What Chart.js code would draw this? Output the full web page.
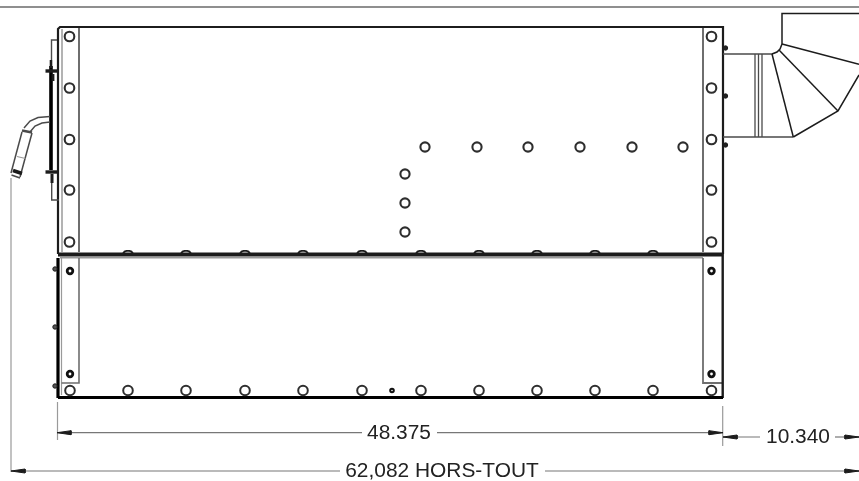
<!DOCTYPE html>
<html>
<head>
<meta charset="utf-8">
<title>Dimensions</title>
<script src="https://cdn.jsdelivr.net/npm/chart.js@4"></script>
<style>
  html, body { margin: 0; padding: 0; background: #fff; overflow: hidden; }
  canvas { display: block; filter: blur(0.35px); }
</style>
</head>
<body>
<canvas id="drawing" width="859" height="481"></canvas>
<script>
// drawing units are the pixels of the sheet
const sheetTop = [[0, 7], [859, 7]];

// main cabinet
const frameOuter = [[58, 254], [58, 29], [60, 27], [723, 27], [723, 254]];
const frameInnerLeft = [[62, 29], [62, 252]];
const frameRailLeft = [[79, 28], [79, 252]];
const frameRailRight = [[703, 28], [703, 252]];
const seamThick = [[58, 254.5], [723, 254.5]];
const seamGrey = [[60, 257.7], [703, 257.7]];

// lower panel
const panelBottom = [[58, 397.5], [723, 397.5]];
const panelLeft = [[58, 258], [58, 398]];
const panelRight = [[722.7, 254], [722.7, 398]];
const panelInnerLeft = [[61.5, 258], [61.5, 395]];
const panelRailLeft = [[61.5, 383], [79, 383], [79, 258]];
const panelRailRight = [[703, 258], [703, 383], [722, 383]];

// duct on the right
const ductTop = [[723, 54], [772, 54]];
const ductBottom = [[723, 137], [793.3, 137]];
const ductBands = [[755, 54], [755, 137]];
const ductBands2 = [[758.5, 54], [758.5, 137]];
const ductBands3 = [[762, 54], [762, 137]];
const elbowInner = [[772, 54], [777, 52], [780, 49], [782, 44]];
const elbowBox = [[782, 44], [782, 13.5], [859, 13.5]];
const elbowOuter = [[782, 44], [859, 64.3]];
const elbowRay1 = [[772, 54], [793.3, 137]];
const elbowRay2 = [[779, 50], [838, 111]];
const elbowEdge = [[793.3, 137], [838, 111], [859, 75]];

// handle and cable on the left
const handleRod = [[51, 66], [51, 170]];
const handleCone = [[51, 60], [51, 68]];
const bracketTop = [[57, 40], [51.5, 40], [51.5, 60]];
const bracketBottom = [[51.7, 182], [51.7, 200], [59, 200]];
const fittingTop = [[45.5, 71], [57, 71]];
const fittingBottom = [[45.5, 172], [57, 172]];
const fittingStemTop = [[53, 74], [53, 81]];
const fittingStemBottom = [[52, 174], [52, 183]];
const cableUpper = [[50, 116.5], [38, 117.5], [30, 121], [24, 128]];
const cableLower = [[50, 122], [42, 123], [35, 126], [30, 132]];
const plugBand = [[22, 130.5], [32, 132.5]];
const plugLeft = [[22, 132], [11, 173]];
const plugRight = [[32, 133], [20, 177]];
const plugRing = [[17, 156.5], [25.5, 158.5]];
const plugCollar = [[13, 170.5], [22, 173.5]];
const plugTip = [[11.5, 175], [20, 178]];

// holes
const railHoleRows = [36.5, 88, 139.5, 190, 242];
const railHoleCols = [69.5, 711.5];
const upperHolesX = [425, 477, 528, 580, 632, 683];
const upperHolesY = [147, 147, 147, 147, 147, 147];
const midHolesX = [405, 405, 405];
const midHolesY = [174, 203, 232];
const seamBumpsX = [128, 186, 245, 303, 362, 421, 479, 537, 595, 653];
const bottomHolesX = [70, 128, 186, 245, 303, 362, 421, 479, 537, 595, 653, 711.5];
const bottomHolesY = 390.5;
const darkHolesX = [70, 70, 711.5, 711.5, 392];
const darkHolesY = [271, 374, 271, 374, 390.5];
const knobsLeftY = [269, 327, 386];
const knobsRightY = [48, 96, 145];

// dimensions
const extFar = [[11, 178], [11, 472]];
const extLeft = [[57.5, 402], [57.5, 440]];
const extRight = [[722.7, 406], [722.7, 446]];
const dim48a = [[57, 432.7], [362, 432.7]];
const dim48b = [[437, 432.7], [723, 432.7]];
const dim10a = [[723, 437], [760, 437]];
const dim10b = [[835, 437], [859, 437]];
const dim62a = [[11, 471], [340, 471]];
const dim62b = [[545, 471], [859, 471]];
const arrowTips = [[57, 432.7, 1], [723, 432.7, -1], [723, 437, 1], [859, 437, -1], [11, 471, 1], [859, 471, -1]];

const dimLabels = ["48.375", "10.340", "62,082 HORS-TOUT"];
const dimLabelX = [399, 798, 442];
const dimLabelY = [433, 437, 471];

const dark = "#1c1c1c";
const mid = "#4a4a4a";
const rail = "#6e6e6e";
const grey = "#9a9a9a";
const holeLine = "#2e2e2e";
const datasets = [];

function line(points, width, color) {
  datasets.push({
    data: points.map((p) => ({ x: p[0], y: p[1] })),
    showLine: true,
    borderColor: color,
    borderWidth: width,
    pointRadius: 0,
    borderJoinStyle: "miter",
  });
}

function holes(xs, ys, radius, width, color, fill) {
  datasets.push({
    data: xs.map((x, i) => ({ x: x, y: ys[i] })),
    showLine: false,
    pointStyle: "circle",
    pointRadius: radius,
    pointBorderWidth: width,
    pointBorderColor: color,
    pointBackgroundColor: fill,
  });
}

function arrow(tip) {
  const [x, y, dir] = tip;
  datasets.push({
    data: [
      { x: x, y: y },
      { x: x + dir * 14, y: y - 2 },
      { x: x + dir * 14, y: y + 2 },
      { x: x, y: y },
    ],
    showLine: true,
    fill: "shape",
    backgroundColor: dark,
    borderColor: dark,
    borderWidth: 1,
    pointRadius: 0,
  });
}

// the seam covers the foot of each bump
seamBumpsX.forEach((x) => {
  line([[x - 5, 253.5], [x - 3.5, 251.6], [x - 1.5, 250.9], [x + 1.5, 250.9], [x + 3.5, 251.6], [x + 5, 253.5]], 1.8, dark);
});

line(sheetTop, 1.5, "#6a6a6a");
line(frameInnerLeft, 1.5, grey);
line(frameRailLeft, 2, rail);
line(frameRailRight, 2, rail);
line(frameOuter, 2.2, dark);
line(seamGrey, 1.6, grey);
line(seamThick, 4, dark);
line(panelInnerLeft, 1.2, grey);
line(panelRailLeft, 1.6, rail);
line(panelRailRight, 1.8, rail);
line(panelLeft, 3.2, "#000");
line(panelRight, 2.4, dark);
line(panelBottom, 3, "#000");

[ductTop, ductBottom].forEach((l) => line(l, 1.4, mid));
[ductBands, ductBands2, ductBands3].forEach((l) => line(l, 1.3, mid));
[elbowInner, elbowBox, elbowOuter, elbowRay1, elbowRay2, elbowEdge].forEach((l) => line(l, 1.5, dark));

line(handleRod, 3.6, "#000");
line(handleCone, 2.6, dark);
line(bracketTop, 1.4, mid);
line(bracketBottom, 1.4, mid);
line(fittingTop, 3.4, dark);
line(fittingBottom, 3.4, dark);
line(fittingStemTop, 2.8, dark);
line(fittingStemBottom, 3, dark);
[cableUpper, cableLower, plugLeft, plugRight].forEach((l) => line(l, 1.5, mid));
line(plugBand, 2.8, mid);
line(plugRing, 1.2, grey);
line(plugCollar, 3.6, dark);
line(plugTip, 1.6, mid);

line(extFar, 1.2, grey);
line(extLeft, 1.2, grey);
line(extRight, 1.2, grey);
[dim48a, dim48b, dim10a, dim10b, dim62a, dim62b].forEach((l) => line(l, 1.2, "#777"));
arrowTips.forEach(arrow);

railHoleCols.forEach((x) => holes(railHoleRows.map(() => x), railHoleRows, 4.8, 2.1, holeLine, "#fff"));
holes(upperHolesX, upperHolesY, 4.6, 2.1, holeLine, "#fff");
holes(midHolesX, midHolesY, 4.6, 2.1, holeLine, "#fff");
holes(bottomHolesX, bottomHolesX.map(() => bottomHolesY), 4.8, 2, holeLine, "#fff");
holes(darkHolesX.slice(0, 4), darkHolesY.slice(0, 4), 2.8, 2.8, "#111", "#fff");
holes(darkHolesX.slice(4), darkHolesY.slice(4), 1.8, 2, "#111", "#fff");
holes(knobsLeftY.map(() => 55), knobsLeftY, 2.2, 1, dark, "#555");
holes(knobsRightY.map(() => 725.5), knobsRightY, 2.2, 1, dark, "#222");

datasets.forEach((d, i) => { d.order = -i; });

const labelPlugin = {
  id: "dimLabels",
  afterDraw(chart) {
    const { ctx, scales } = chart;
    ctx.save();
    ctx.font = '20.9px "Liberation Sans", Arial, sans-serif';
    ctx.fillStyle = "#222";
    ctx.textAlign = "center";
    ctx.textBaseline = "middle";
    dimLabels.forEach((t, i) => {
      ctx.fillText(t, scales.x.getPixelForValue(dimLabelX[i]), scales.y.getPixelForValue(dimLabelY[i]));
    });
    ctx.restore();
  },
};

new Chart(document.getElementById("drawing"), {
  type: "scatter",
  data: { datasets: datasets },
  options: {
    responsive: false,
    animation: false,
    devicePixelRatio: 1,
    layout: { padding: 0, autoPadding: false },
    plugins: { legend: { display: false }, tooltip: { enabled: false }, title: { display: false } },
    scales: {
      x: { type: "linear", min: 0, max: 859, display: false },
      y: { type: "linear", min: 0, max: 481, reverse: true, display: false },
    },
  },
  plugins: [labelPlugin],
});
</script>
</body>
</html>
